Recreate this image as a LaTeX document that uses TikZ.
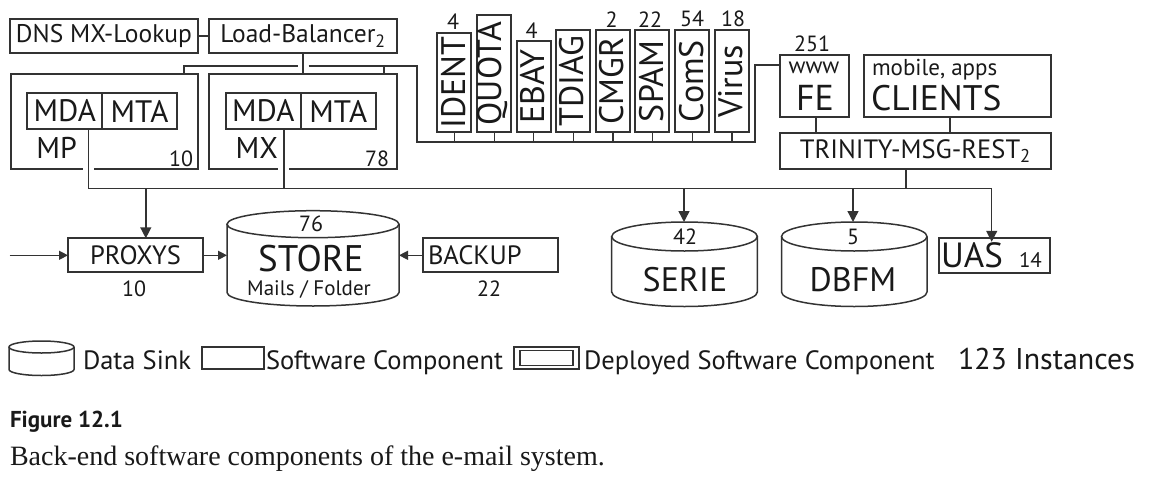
\documentclass[tikz,border=0pt]{standalone}
\usepackage{fontspec}
\usepackage{graphicx}
\setmainfont{PT Sans}
\newfontfamily\capfont{Liberation Serif}
\usetikzlibrary{arrows.meta,calc}
\newcommand{\fsz}[1]{\fontsize{#1}{#1}\selectfont}
\begin{document}
\begin{tikzpicture}[x=1pt,y=-1pt,
  every node/.style={text=black!90, inner sep=0pt, outer sep=0pt},
  box/.style={draw=black!80, line width=1.7pt},
  ln/.style={draw=black!80, line width=1.4pt},
  cyl/.style={draw=black!80, line width=1.5pt},
  arr/.style={ln, -{Triangle[length=11pt,width=11pt]}},
  harr/.style={ln, -{Triangle[length=9pt,width=9pt]}},
  svc/.style={box, rotate=90, anchor=west, minimum height=34pt, text height=24pt, text depth=2.5pt, font=\fsz{34}},
  num/.style={font=\fsz{22}},
  lg/.style={font=\fsz{26.5}, anchor=base west},
]
\useasboundingbox (0,0) rectangle (1166,495);

% ---------- top left ----------
\node[box, minimum width=188pt, minimum height=34pt, font=\fsz{25.5}] (dns) at (104,36) {DNS MX-Lookup};
\node[box, minimum width=188pt, minimum height=34pt, font=\fsz{25.5}] (lb) at (303,36) {Load-Balancer\textsubscript{2}};
\draw[ln] (dns) -- (lb);

% MP
\node[minimum width=187pt, minimum height=95pt] (mp) at (104.5,121.5) {};
\draw[box] (82.7,169) -| (mp.north west) -| (mp.south east) -- (94.3,169);
\node[box, minimum width=75pt, minimum height=36.6pt, font=\fsz{31}] (mpmda) at (64.8,111) {MDA};
\node[box, minimum width=74.4pt, minimum height=36.6pt, font=\fsz{31}] (mpmta) at (139.5,111) {MTA};
\node[font=\fsz{30}] (mplbl) at (56.7,148) {MP};
\node[font=\fsz{22}, anchor=east] (mpn) at (193,159) {10};

% MX
\node[minimum width=188pt, minimum height=95pt] (mx) at (303,121.5) {};
\draw[box] (277.7,169) -| (mx.north west) -| (mx.south east) -- (289.3,169);
\node[box, minimum width=75.3pt, minimum height=36.6pt, font=\fsz{31}] (mxmda) at (263.3,111) {MDA};
\node[box, minimum width=74.7pt, minimum height=36.6pt, font=\fsz{31}] (mxmta) at (338.3,111) {MTA};
\node[font=\fsz{30}] (mxlbl) at (256.7,148) {MX};
\node[font=\fsz{22}, anchor=east] (mxn) at (389,159) {78};

% ---------- services ----------
\node[svc, minimum width=99pt] (ident) at (454.3,132.3) {IDENT};
\node[svc, minimum width=117.3pt, text depth=6.5pt, text height=22pt] (quota) at (494.2,132.3) {QUOTA};
\node[svc, minimum width=91.6pt] (ebay) at (533.7,132.3) {EBAY};
\node[svc, minimum width=102.3pt] (tdiag) at (573.2,132.3) {TDIAG};
\node[svc, minimum width=102.3pt] (cmgr) at (613,132.3) {CMGR};
\node[svc, minimum width=102.3pt] (spam) at (652.3,132.3) {SPAM};
\node[svc, minimum width=102.3pt] (coms) at (692.3,132.3) {ComS};
\node[svc, minimum width=102.3pt] (virus) at (732,132.3) {Virus};
\node[num] (identn) at (453,21.7) {4};
\node[num] (ebayn) at (531.7,30.7) {4};
\node[num] (cmgrn) at (611.7,19.3) {2};
\node[num] (spamn) at (650,19.3) {22};
\node[num] (comsn) at (692,19.3) {54};
\node[num] (virusn) at (733,19.3) {18};

% ---------- right top ----------
\node[box, minimum width=69pt, minimum height=61.7pt] (fe) at (814.5,85.9) {};
\node[font=\fsz{23}] (fewww) at (814,68) {www};
\node[font=\fsz{36}] (fetxt) at (815,98) {FE};
\node[num] (fen) at (812,44) {251};
\node[box, minimum width=186.7pt, minimum height=61.7pt] (cl) at (957.3,85.9) {};
\node[font=\fsz{23}, anchor=base west] (clsub) at (872,75) {mobile, apps};
\node[font=\fsz{35.5}, anchor=base west] (cltxt) at (871,110) {CLIENTS};
\node[box, minimum width=270.7pt, minimum height=36.6pt, font=\fsz{26.5}] (tr) at (915.3,151) {TRINITY-MSG-REST\textsubscript{2}};

% ---------- bottom row ----------
\node[box, minimum width=135pt, minimum height=34pt, font=\fsz{26.5}] (proxys) at (135.5,255.3) {PROXYS};
\node[num] (proxysn) at (134,288.3) {10};
\node[box, minimum width=135pt, minimum height=34pt] (backup) at (490.5,255.3) {};
\node[font=\fsz{26.5}, anchor=west] (backupt) at (428,255.3) {BACKUP};
\node[num] (backupn) at (489,288.3) {22};

\node[minimum width=172pt, minimum height=95.3pt] (store) at (313,258.35) {};
\draw[cyl] ($(store.north)+(0,13.5)$) ellipse [x radius=86pt, y radius=13.5pt];
\draw[cyl] ($(store.north west)+(0,13.5)$) -- ($(store.south west)+(0,-13.5)$) arc[start angle=180, end angle=360, x radius=86pt, y radius=13.5pt] -- ($(store.north east)+(0,13.5)$);
\node[num] (storen) at (311,223.3) {76};
\node[font=\fsz{37}] (storet) at (311,259) {STORE};
\node[font=\fsz{21}] (storem) at (309,289) {Mails / Folder};

\node[minimum width=145.6pt, minimum height=84.5pt] (serie) at (684.5,264.25) {};
\draw[cyl] ($(serie.north)+(0,14.5)$) ellipse [x radius=72.8pt, y radius=14.5pt];
\draw[cyl] ($(serie.north west)+(0,14.5)$) -- ($(serie.south west)+(0,-14.5)$) arc[start angle=180, end angle=360, x radius=72.8pt, y radius=14.5pt] -- ($(serie.north east)+(0,14.5)$);
\node[num] (serien) at (685,236.7) {42};
\node[font=\fsz{34}] (seriet) at (685,280) {SERIE};

\node[minimum width=145.5pt, minimum height=84.5pt] (dbfm) at (854.25,264.25) {};
\draw[cyl] ($(dbfm.north)+(0,14.5)$) ellipse [x radius=72.75pt, y radius=14.5pt];
\draw[cyl] ($(dbfm.north west)+(0,14.5)$) -- ($(dbfm.south west)+(0,-14.5)$) arc[start angle=180, end angle=360, x radius=72.75pt, y radius=14.5pt] -- ($(dbfm.north east)+(0,14.5)$);
\node[num] (dbfmn) at (853,237) {5};
\node[font=\fsz{34}] (dbfmt) at (853,280) {DBFM};

\node[box, minimum width=111pt, minimum height=34.4pt] (uas) at (994.2,255.5) {};
\node[font=\fsz{35}, anchor=base west] (uast) at (941,267) {UAS};
\node[font=\fsz{21}, anchor=base west] (uasn) at (1019,267) {14};

% ---------- connectors ----------
\coordinate (jmp) at (184,66);
\coordinate (jr) at (417,66);
\coordinate (jmx) at (384,66);
\coordinate (sbl) at (417,142);
\coordinate (sbr) at (755,142);
\coordinate (jfe) at (755,65);
\draw[ln] (jmp |- mp.north) -- (jmp) -- ($(jmp -| lb.south)+(-5.5,0)$);
\draw[ln] ($(jmp -| lb.south)+(5.5,0)$) -- (jr) -- (sbl) -- (sbr) -- (jfe) -- (jfe -| fe.west);
\draw[ln] (lb.south) -- (lb.south |- mx.north);
\draw[ln] (jmx) -- (jmx |- mx.north);
\foreach \s in {ident,quota,ebay,tdiag,cmgr,spam,coms,virus}
  \draw[ln] (\s.west) -- (\s.west |- sbl);

\coordinate (fes) at (816,125);
\coordinate (cls) at (950,125);
\draw[ln] (fes |- fe.south) -- (fes |- tr.north);
\draw[ln] (cls |- cl.south) -- (cls |- tr.north);

\coordinate (busl) at (88.3,188.3);
\coordinate (busr) at (991.7,188.3);
\coordinate (mxs) at (284,188.3);
\coordinate (trs) at (906,188.3);
\coordinate (pa) at (145.8,188.3);
\coordinate (sa) at (684,188.3);
\coordinate (da) at (853,188.3);
\draw[ln] (busl |- mpmda.south) -- (busl) -- (busr);
\draw[ln] (mxs |- mxmda.south) -- (mxs);
\draw[ln] (trs |- tr.south) -- (trs);
\draw[arr] (pa) -- (pa |- proxys.north);
\draw[arr] (sa) -- (sa |- serie.north);
\draw[arr] (da) -- (da |- dbfm.north);
\draw[arr] (busr) -- ($(busr |- uas.north)+(0,3.5)$);

\coordinate (inc) at (9.6,255.3);
\draw[harr] (inc) -- (proxys.west);
\draw[harr] (proxys.east) -- (store.west |- proxys.east);
\draw[harr] (backup.west) -- (store.east |- backup.west);

% ---------- legend ----------
\node[minimum width=65pt, minimum height=34.5pt] (lgcyl) at (41.5,358.25) {};
\draw[cyl] ($(lgcyl.north)+(0,6)$) ellipse [x radius=32.5pt, y radius=6pt];
\draw[cyl] ($(lgcyl.north west)+(0,6)$) -- ($(lgcyl.south west)+(0,-6)$) arc[start angle=180, end angle=360, x radius=32.5pt, y radius=6pt] -- ($(lgcyl.north east)+(0,6)$);
\node[lg] (lgds) at (83,369) {Data Sink};
\node[box, minimum width=62pt, minimum height=22pt] (lgsw) at (233,358) {};
\node[lg] (lgswt) at (266,369) {Software Component};
\node[box, minimum width=65pt, minimum height=22pt] (lgdep) at (546.5,358) {};
\node[box, minimum width=53pt, minimum height=15pt] (lgdepi) at (546.5,358) {};
\node[lg] (lgdept) at (584,369) {Deployed Software Component};
\node[lg, font=\fsz{30}] (lginst) at (958,369) {123 Instances};

% ---------- caption ----------
\node[anchor=base west, font=\bfseries\fsz{23}] (figt) at (10,427) {Figure 12.1};
\node[anchor=base west, font=\capfont\fsz{28}] (capt) at (10,465) {Back-end software components of the e-mail system.};
\end{tikzpicture}
\end{document}
